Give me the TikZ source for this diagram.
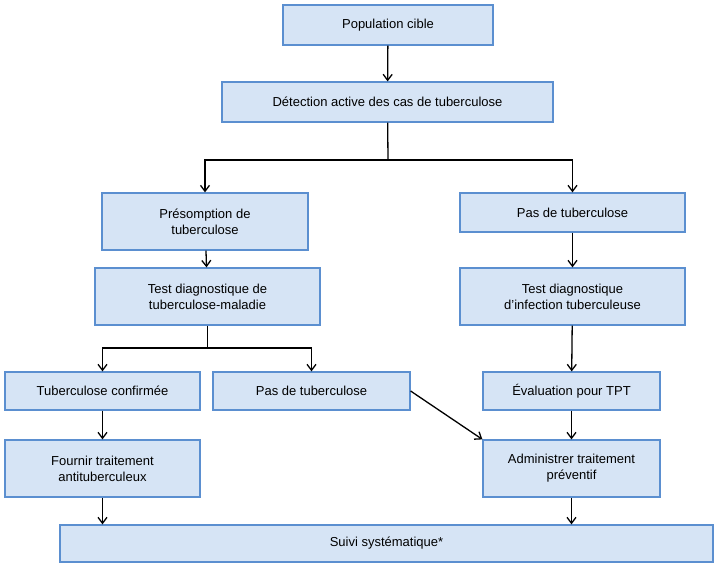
\documentclass[tikz,border=0pt]{standalone}
\usepackage{fontspec}
\setmainfont{Liberation Sans}
\usetikzlibrary{arrows.meta}
\definecolor{boxfill}{HTML}{D6E4F5}
\definecolor{boxline}{HTML}{5B8FD0}
\begin{document}
\begin{tikzpicture}[x=1pt, y=-1pt,
        box/.style={rectangle, draw=boxline, fill=boxfill, line width=1.2pt, align=center, inner sep=0pt, font=\fontsize{13}{16}\selectfont},
        arrow/.style={-{Straight Barb[length=6pt, width=9pt]}, line width=1.3pt}
    ]
        \useasboundingbox (0,0) rectangle (720,567);
        \node[box, minimum width=210pt, minimum height=40pt] (population) at (388,25) {Population cible};
        \node[box, minimum width=331pt, minimum height=40pt] (detection) at (387.5,102) {Détection active des cas de tuberculose};
        \node[box, minimum width=206pt, minimum height=57pt] (presomption) at (205,221.5) {Présomption de\\tuberculose};
        \node[box, minimum width=225pt, minimum height=39pt] (pastbright) at (572.5,212.5) {Pas de tuberculose};
        \node[box, minimum width=225pt, minimum height=57pt] (testmaladie) at (207.5,296.5) {Test diagnostique de\\tuberculose-maladie};
        \node[box, minimum width=225pt, minimum height=57pt] (testinfection) at (572.5,296.5) {Test diagnostique\\d’infection tuberculeuse};
        \node[box, minimum width=195pt, minimum height=38pt] (confirmee) at (102.5,391) {Tuberculose confirmée};
        \node[box, minimum width=197pt, minimum height=38pt] (pastbmid) at (311.5,391) {Pas de tuberculose};
        \node[box, minimum width=177pt, minimum height=38pt] (evaluation) at (571.5,391) {Évaluation pour TPT};
        \node[box, minimum width=195pt, minimum height=57pt] (fournir) at (102.5,468.5) {Fournir traitement\\antituberculeux};
        \node[box, minimum width=177pt, minimum height=57pt] (administrer) at (571.5,468.5) {Administrer traitement\\préventif};
        \node[box, minimum width=653pt, minimum height=37pt] (suivi) at (386.5,543.5) {Suivi systématique*};

        \coordinate (split1) at (388,160);
        \coordinate (split2) at (207.5,348);

        \draw[arrow] (population) -- (detection);
        \draw[line width=1.3pt] (detection) -- (split1);
        \draw[arrow] (split1) -| (presomption);
        \draw[arrow] (split1) -| (pastbright);
        \draw[arrow] (presomption) -- (testmaladie);
        \draw[line width=1.3pt] (testmaladie) -- (split2);
        \draw[arrow] (split2) -| (confirmee);
        \draw[arrow] (split2) -| (pastbmid);
        \draw[arrow] (pastbright) -- (testinfection);
        \draw[arrow] (testinfection) -- (evaluation);
        \draw[arrow] (evaluation) -- (administrer);
        \draw[arrow] (confirmee) -- (fournir);
        \draw[arrow] (pastbmid.east) -- (administrer.north west);
        \draw[arrow] (fournir) -- (fournir |- suivi.north);
        \draw[arrow] (administrer) -- (administrer |- suivi.north);
    \end{tikzpicture}
\end{document}
